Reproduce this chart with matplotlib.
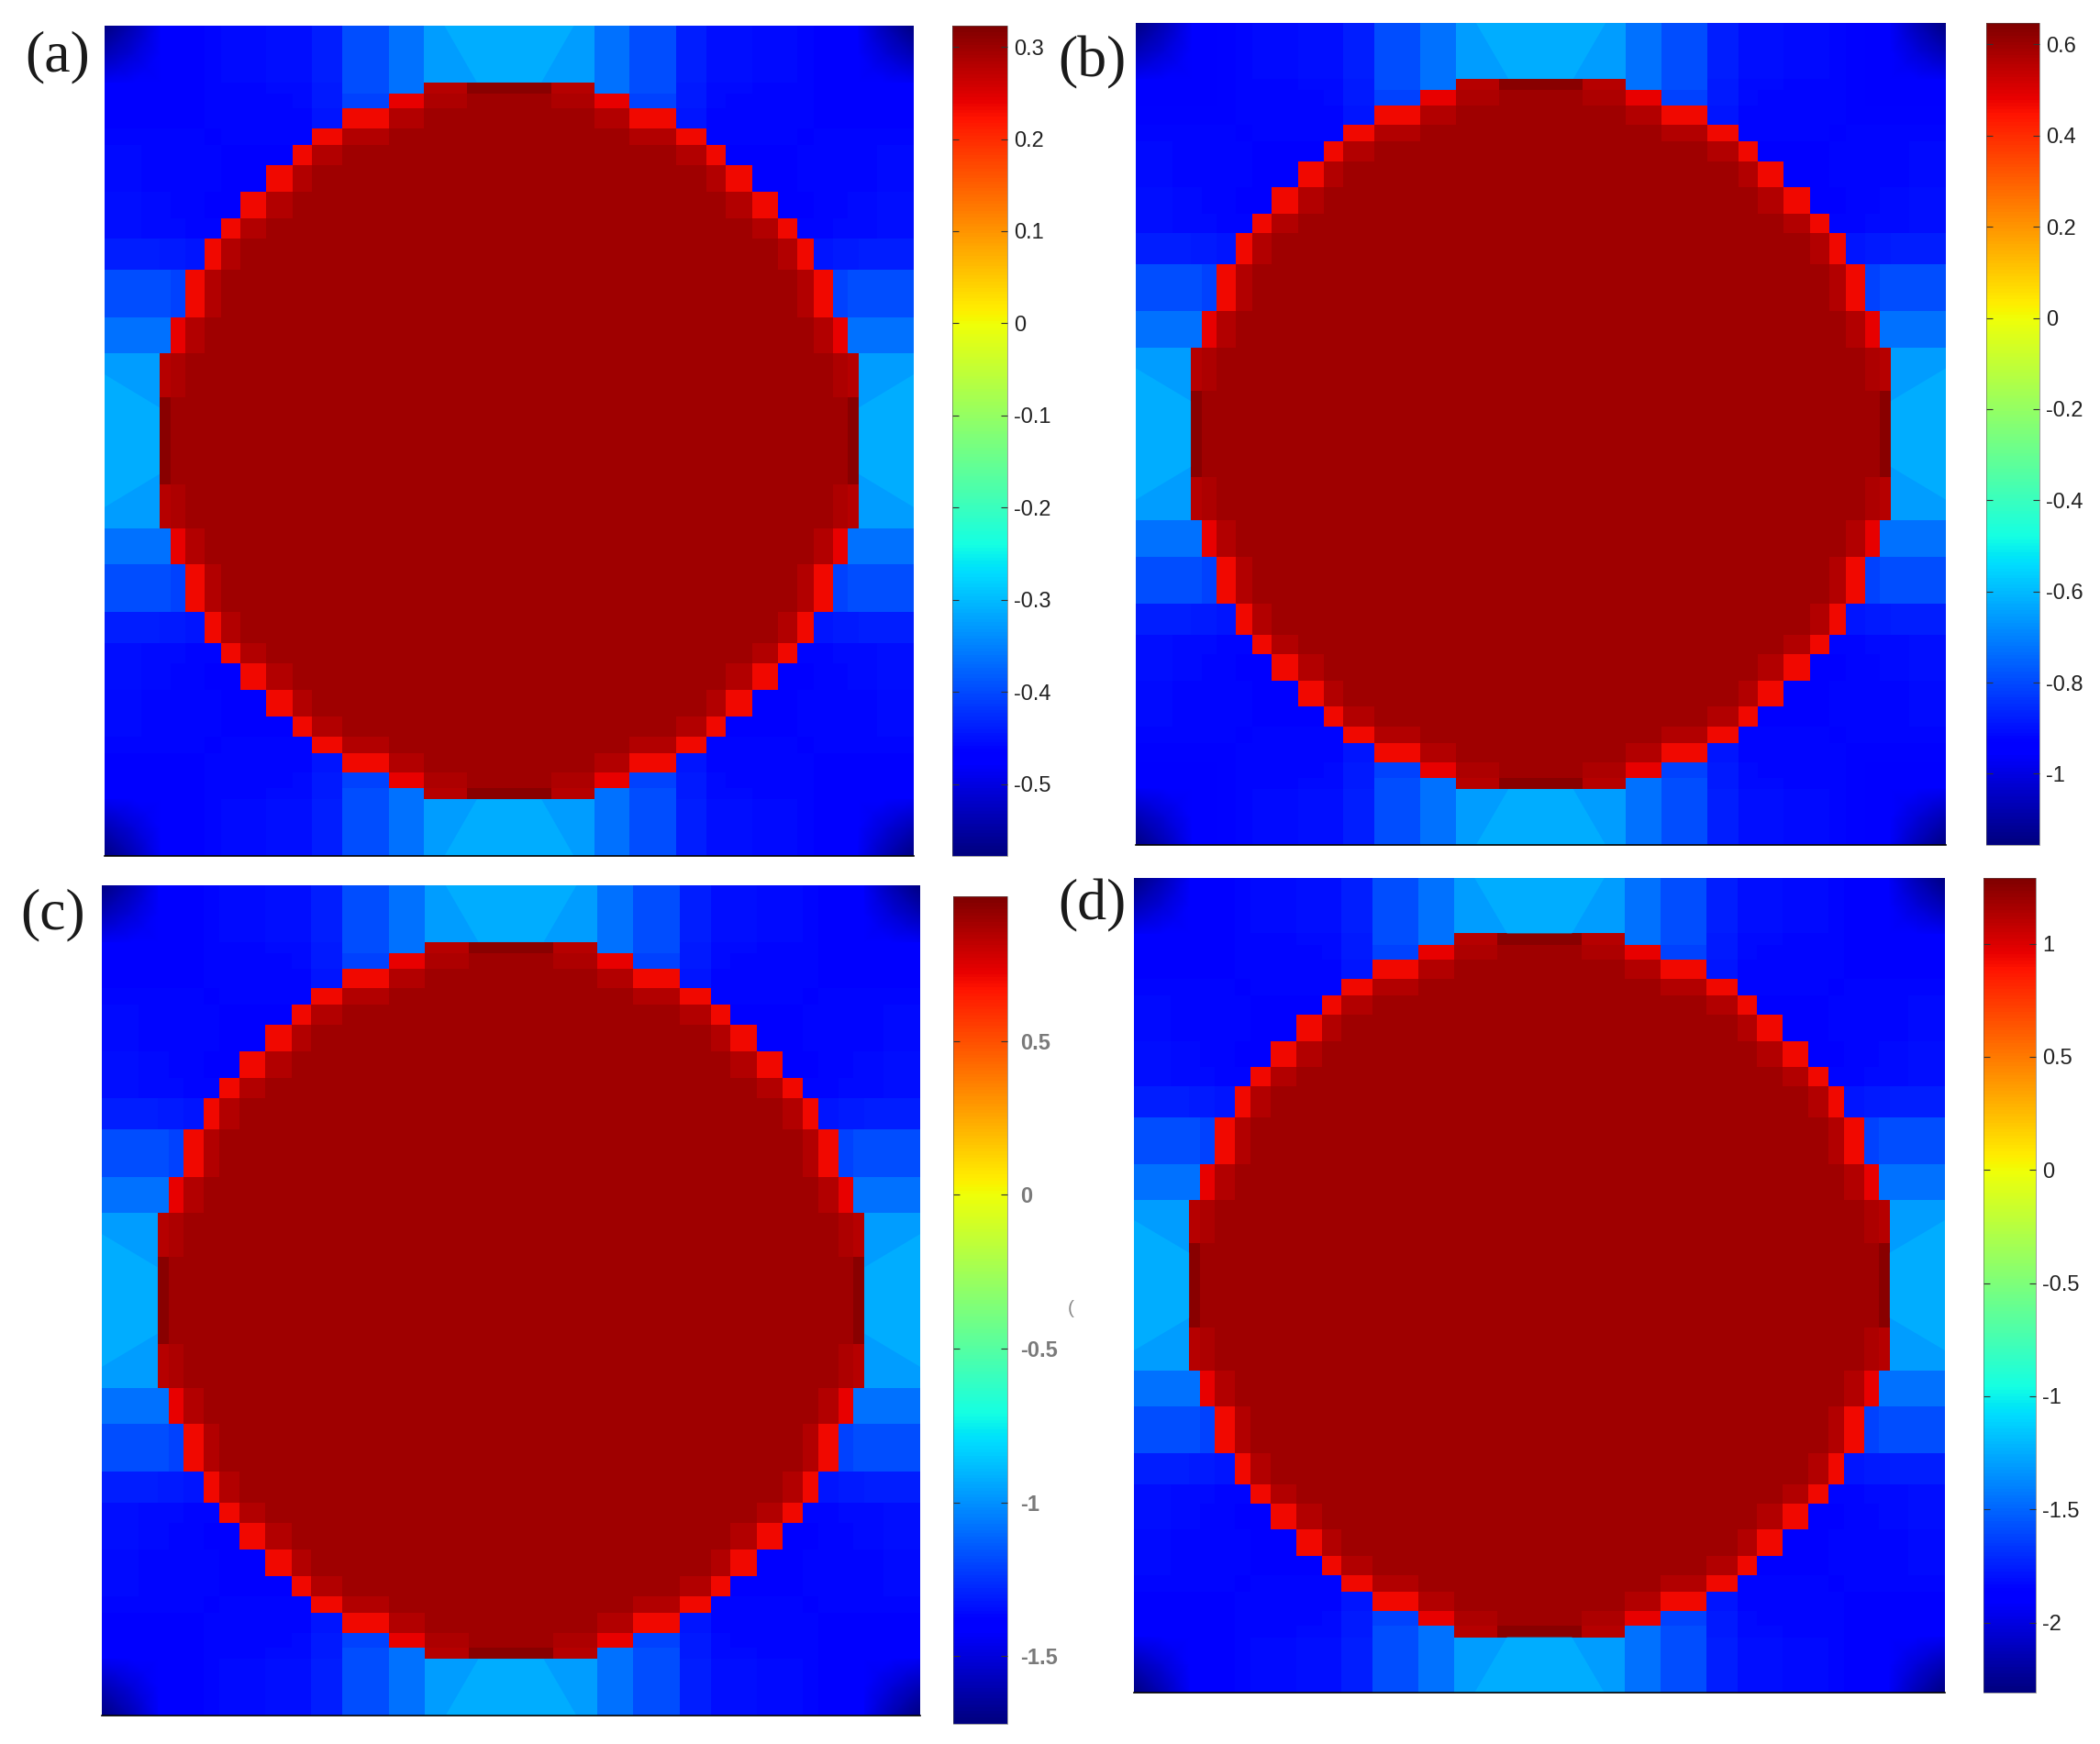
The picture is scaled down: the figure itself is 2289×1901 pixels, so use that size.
import numpy as np
import matplotlib
matplotlib.use("Agg")
import matplotlib.pyplot as plt
from matplotlib.cm import ScalarMappable
from matplotlib.colors import Normalize

W, H = 2289, 1901

# mesh edges of the left half, as fraction of panel size (same both ways)
half_edges = [0, .023, .045, .068, .082, .100, .124, .144, .168, .200, .232,
              .256, .294, .351, .395, .448, .5]

# upper left quadrant, position on the colour scale
R, S, D = .90, .955, .972
quadrant = [
    [.03, .05, .09, .11, .12, .125, .13, .135, .135, .14, .14, .155, .20, .235, .28, .28],
    [.05, .06, .09, .11, .12, .125, .13, .135, .135, .14, .14, .155, .20, .235, .28, .28],
    [.09, .09, .10, .11, .12, .125, .13, .135, .135, .14, .14, .155, .20, .235, .28, .28],
    [.11, .11, .11, .115, .12, .125, .13, .13, .13, .135, .135, .15, .20, .235, .95, .99],
    [.12, .12, .12, .12, .12, .125, .13, .13, .13, .13, .135, .15, .19, .91, .96, .97],
    [.125, .125, .125, .125, .125, .125, .13, .13, .13, .13, .13, .145, R, S, D, D],
    [.13, .13, .13, .13, .13, .13, .125, .13, .13, .13, .13, R, S, D, D, D],
    [.135, .135, .13, .13, .13, .13, .13, .12, .12, .12, R, S, D, D, D, D],
    [.135, .135, .13, .13, .13, .13, .13, .12, .12, R, S, D, D, D, D, D],
    [.14, .14, .135, .135, .13, .13, .12, .12, R, S, D, D, D, D, D, D],
    [.14, .14, .135, .135, .135, .13, .13, R, S, D, D, D, D, D, D, D],
    [.155, .155, .155, .15, .15, .145, R, S, D, D, D, D, D, D, D, D],
    [.20, .20, .20, .20, .19, R, S, D, D, D, D, D, D, D, D, D],
    [.235, .235, .235, .235, .91, S, D, D, D, D, D, D, D, D, D, D],
    [.28, .28, .28, .95, .96, D, D, D, D, D, D, D, D, D, D, D],
    [.28, .28, .28, .99, .97, D, D, D, D, D, D, D, D, D, D, D],
]

# smooth dark corners, drawn over the mesh
corner_edges = [0, .035, .068]
corner_levels = [
    [.0, .05, .105],
    [.05, .08, .115],
    [.105, .115, .12],
]

# lighter wedge in the four light blue bands
wedge_level = .295
wedge_along = [.42, .58, .54, .46]
wedge_across = [0, 0, .068, .068]

panel_names = ["(a)", "(b)", "(c)", "(d)"]
vmins = [-.578, -1.156, -1.72, -2.31]
vmaxs = [.323, .647, .97, 1.29]
tick_values = [
    [.3, .2, .1, 0, -.1, -.2, -.3, -.4, -.5],
    [.6, .4, .2, 0, -.2, -.4, -.6, -.8, -1],
    [.5, 0, -.5, -1, -1.5],
    [1, .5, 0, -.5, -1, -1.5, -2],
]
tick_texts = [
    ["0.3", "0.2", "0.1", "0", "-0.1", "-0.2", "-0.3", "-0.4", "-0.5"],
    ["0.6", "0.4", "0.2", "0", "-0.2", "-0.4", "-0.6", "-0.8", "-1"],
    ["0.5", "0", "-0.5", "-1", "-1.5"],
    ["1", "0.5", "0", "-0.5", "-1", "-1.5", "-2"],
]

# pixel boxes left, right, top, bottom
panel_boxes = [(114, 996, 28, 933), (1238, 2121, 25, 921),
               (111, 1003, 965, 1870), (1236, 2120, 957, 1845)]
bar_boxes = [(1038, 1098, 28, 933), (2165, 2223, 25, 921),
             (1039, 1098, 977, 1879), (2162, 2219, 957, 1845)]
label_spots = [(63, 62), (1190, 68), (58, 997), (1190, 987)]
label_colors = ["#222222", "#222222", "#7a7a7a", "#222222"]


def box_axes(fig, box):
    l, r, t, b = box
    return fig.add_axes([l / W, 1 - b / H, (r - l) / W, (b - t) / H])


fig = plt.figure(figsize=(W / 100, H / 100), dpi=100)

edges = np.array(half_edges + [1 - e for e in half_edges[-2::-1]])
q = np.array(quadrant)
field = np.block([[q, q[:, ::-1]], [q[::-1], q[::-1, ::-1]]])
ce = np.array(corner_edges)
cl = np.array(corner_levels)

for i in range(4):
    vmin, vmax = vmins[i], vmaxs[i]
    norm = Normalize(vmin, vmax)
    ax = box_axes(fig, panel_boxes[i])
    ax.pcolormesh(edges, edges, vmin + field * (vmax - vmin), cmap="jet", norm=norm,
                  antialiased=False)
    for xs in (ce, 1 - ce):
        for ys in (ce, 1 - ce):
            ax.pcolormesh(xs, ys, vmin + cl * (vmax - vmin), cmap="jet", norm=norm,
                          shading="gouraud")
    wedge_color = plt.get_cmap("jet")(wedge_level)
    a, c = np.array(wedge_along), np.array(wedge_across)
    ax.fill(a, c, color=wedge_color, lw=0)
    ax.fill(a, 1 - c, color=wedge_color, lw=0)
    ax.fill(c, a, color=wedge_color, lw=0)
    ax.fill(1 - c, a, color=wedge_color, lw=0)
    ax.set_xlim(0, 1)
    ax.set_ylim(1, 0)
    ax.set_xticks([])
    ax.set_yticks([])
    for side in ["top", "left", "right"]:
        ax.spines[side].set_visible(False)
    ax.spines["bottom"].set_linewidth(1.2)

    cax = box_axes(fig, bar_boxes[i])
    cb = fig.colorbar(ScalarMappable(norm=norm, cmap="jet"), cax=cax)
    cb.outline.set_linewidth(.4)
    cb.outline.set_edgecolor("#555555")
    cb.set_ticks(tick_values[i], labels=tick_texts[i])
    cax.tick_params(axis="y", direction="in", left=True, right=True, length=5,
                    width=.8, color="#333333", pad=10 if i == 2 else 5,
                    labelsize=17, labelcolor=label_colors[i])
    for t in cax.get_yticklabels():
        t.set_family("Liberation Sans")
        if i == 2:
            t.set_fontweight("bold")

    x, y = label_spots[i]
    fig.text(x / W, 1 - y / H, panel_names[i], family="Liberation Serif", fontsize=46,
             color="#1a1a1a", ha="center", va="center")

# stray clipped bracket next to the colour bar of panel (c)
fig.text(1167 / W, 1 - 1427 / H, "(", family="Liberation Sans", fontsize=15,
         color="#8a8a8a", ha="center", va="center")

fig.savefig("out.png", dpi=100, facecolor="white")
